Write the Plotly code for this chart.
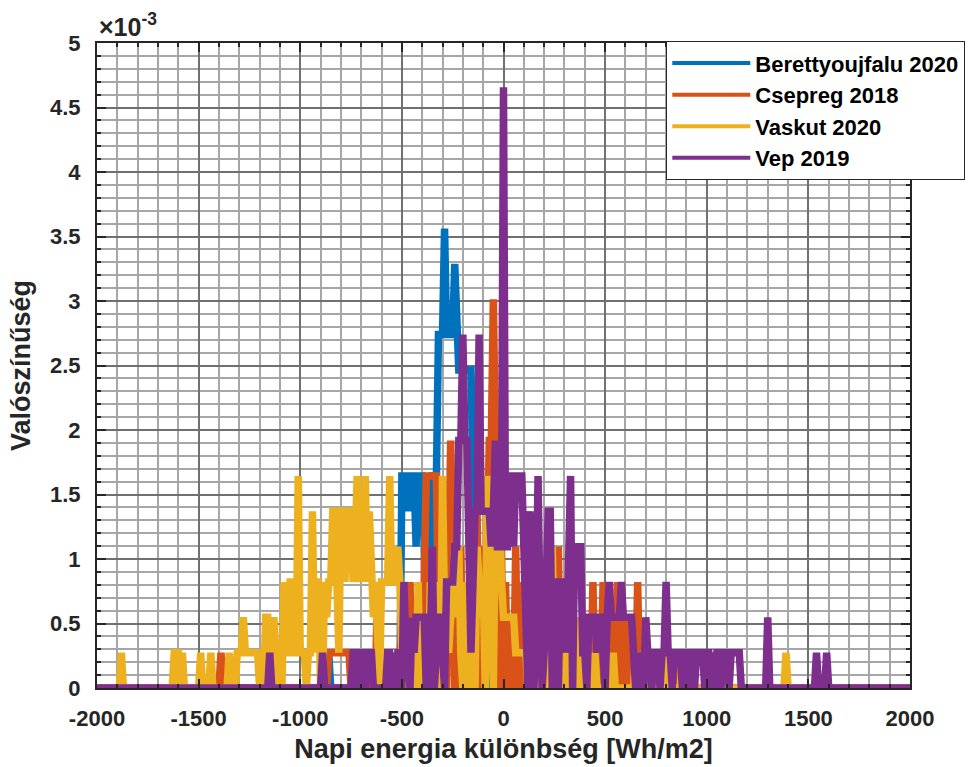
import numpy as np
import plotly.graph_objects as go

# ---- data: histogram bins (Wh/m2) and day counts per 10 Wh/m2 bin (365 days) ----
BIN_WIDTH = 10
N_DAYS = 365

beretty_x = [-860, -500, -490, -480, -470, -460, -450, -440, -430, -420, -410, -400, -390,
             -360, -350, -340, -330, -320, -310, -300, -290, -280, -270, -260, -250, -240,
             -230, -220, -210, -200, -190, -180, -170, -160, -150, -140, -130, -120, -110,
             -100, -70, -60, -50, -40, -30, -20, -10, 0, 10, 20, 30, 50, 60]
beretty_n = [1, 6, 6, 6, 5, 6, 6, 6, 4, 6, 6, 6, 4,
             3, 6, 6, 6, 10, 10, 10, 13, 10, 10, 10, 10, 12,
             10, 9, 9, 9, 9, 9, 9, 9, 6, 5, 3, 4, 2,
             1, 2, 3, 2, 2, 2, 1, 2, 1, 1, 1, 1, 1, 1]

csepreg_x = [-1390, -860, -850, -840, -830, -820, -810, -800, -790, -780, -770, -760,
             -620, -500, -460, -390, -380, -370, -360, -350, -340, -330, -320, -300,
             -270, -260, -250, -230, -210, -180, -150, -130, -100, -80, -70, -60, -50,
             -40, -30, -10, 10, 40, 60, 90, 120, 150, 180, 210, 240, 270, 300, 330, 360,
             390, 420, 440, 460, 490, 510, 540, 560, 580, 600, 620, 640, 660, 680, 700,
             780, 850, 1040]
csepreg_n = [1, 1, 1, 1, 1, 1, 1, 1, 1, 1, 1, 1,
             3, 3, 3, 3, 6, 6, 6, 6, 6, 6, 2, 2,
             4, 7, 4, 3, 4, 3, 4, 5, 4, 5, 7, 7, 11,
             7, 4, 4, 3, 2, 4, 3, 5, 4, 2, 3, 2, 4, 2, 3, 2,
             1, 2, 3, 2, 3, 2, 2, 3, 3, 2, 2, 1, 3, 1, 1,
             1, 1, 1]

vaskut_x = [-1880, -1620, -1610, -1600, -1580, -1490, -1440, -1350,
            -1310, -1300, -1290, -1280, -1270, -1260, -1250, -1240, -1230, -1220, -1210,
            -1170, -1160, -1140, -1130, -1120, -1100,
            -1080, -1070, -1060, -1050, -1040, -1030, -1020, -1010, -1000, -990, -980,
            -960, -950, -940, -930, -920, -910, -900, -880, -870, -860, -850, -840, -830,
            -820, -810, -800, -790, -780, -770, -760, -750, -740, -730, -720, -710, -700,
            -690, -680, -670, -660, -650, -640, -630, -620, -600, -590, -580, -570, -560,
            -550, -540, -530, -520, -510, -500, -490, -480, -460, -440, -420, -400, -380,
            -360, -340, -320, -300, -290, -280, -270, -260, -250, -240, -230, -220, -210,
            -190, -170, -150, -130, -120, -110, -100, -80, -70, -60, -40, -30, -20, -10,
            0, 10, 20, 30, 40, 50, 60, 70, 80, 90, 100, 110, 130, 160, 190, 230, 240,
            250, 270, 300, 330, 350, 380, 410, 450, 540, 650, 700, 755, 800, 880, 1390]
vaskut_n = [1, 1, 1, 1, 1, 1, 1, 1,
            1, 1, 1, 2, 1, 1, 1, 1, 1, 1, 1,
            2, 2, 1, 2, 1, 1,
            3, 1, 1, 3, 3, 1, 1, 6, 1, 1, 1,
            1, 1, 5, 1, 3, 3, 0, 3, 2, 3, 3, 5, 5,
            3, 1, 5, 5, 3, 5, 5, 5, 3, 4, 6, 3, 4,
            3, 6, 3, 5, 3, 2, 3, 1, 3, 3, 3, 3, 6,
            3, 3, 3, 4, 3, 1, 2, 1, 2, 1, 3, 2, 2,
            3, 2, 3, 6, 2, 2, 1, 2, 3, 4, 2, 4, 1,
            3, 2, 1, 4, 3, 2, 3, 6, 3, 2, 5, 4, 5, 3,
            2, 2, 2, 2, 2, 2, 1, 1, 1, 1, 1, 1, 1, 1, 2, 1, 4,
            1, 1, 1, 1, 1, 2, 1, 1, 1, 1, 1, 1, 1, 1, 1]

vep_x = [-1150, -890, -740, -730, -710, -700, -690, -670, -660, -650,
         -570, -560, -540, -520, -510, -490, -480, -470, -450, -440, -430, -420, -410,
         -400, -390, -360, -350, -330, -320, -310, -300, -280, -270, -260, -250, -240,
         -230, -220, -210, -200, -190, -180, -170, -160, -150, -140, -130, -120, -110,
         -100, -90, -80, -70, -60, -50, -40, -30, -20, -10, 0, 10, 20, 30, 40, 50, 60,
         70, 80, 90, 100, 110, 130, 140, 160, 170, 180, 200, 210, 220, 230, 250, 260,
         280, 290, 300, 310, 320, 330, 350, 360, 370, 380, 390, 400, 420, 430, 440,
         450, 460, 470, 480, 490, 510, 520, 530, 540, 550, 560, 570, 580, 590, 600,
         610, 620, 630, 640, 660, 680, 700, 710, 720, 740, 750, 760, 780, 790, 800,
         810, 820, 840, 850, 860, 870, 890, 900, 920, 930, 950, 960, 970, 980, 1000,
         1010, 1030, 1050, 1060, 1080, 1090, 1100, 1120, 1130, 1140, 1150, 1160, 1300,
         1540, 1590]
vep_n = [1, 1, 1, 1, 1, 1, 1, 1, 1, 1,
         1, 1, 1, 1, 1, 3, 1, 1, 2, 1, 2, 2, 2,
         2, 2, 1, 4, 1, 2, 2, 1, 3, 3, 3, 3, 4,
         4, 7, 7, 10, 7, 7, 4, 1, 3, 5, 5, 10, 5,
         5, 5, 5, 5, 4, 5, 7, 4, 4, 5, 17, 4, 4, 6, 6, 4, 6,
         6, 6, 6, 4, 2, 5, 3, 2, 6, 2, 1, 4, 5, 5, 3, 3,
         3, 3, 3, 1, 4, 6, 4, 4, 4, 4, 1, 1, 2, 2, 2,
         2, 1, 2, 2, 1, 2, 3, 2, 2, 2, 2, 2, 3, 2, 2,
         2, 2, 2, 1, 1, 1, 2, 1, 1, 1, 1, 1, 1, 1, 3,
         1, 1, 1, 1, 1, 1, 1, 1, 1, 1, 1, 1, 1, 1, 1,
         1, 1, 1, 1, 1, 1, 1, 1, 1, 1, 1, 1, 2,
         1, 1]

series_names = ["Berettyoujfalu 2020", "Csepreg 2018", "Vaskut 2020", "Vep 2019"]
series_colors = ["#0072BD", "#D95319", "#EDB120", "#7E2F8E"]
series_data = [(beretty_x, beretty_n), (csepreg_x, csepreg_n),
               (vaskut_x, vaskut_n), (vep_x, vep_n)]

x_tick_vals = [-2000, -1500, -1000, -500, 0, 500, 1000, 1500, 2000]
x_tick_text = ["-2000", "-1500", "-1000", "-500", "0", "500", "1000", "1500", "2000"]
y_tick_vals = [i * 0.0005 for i in range(11)]
y_tick_text = ["0", "0.5", "1", "1.5", "2", "2.5", "3", "3.5", "4", "4.5", "5"]

bins = np.arange(-2000, 2001, BIN_WIDTH)

FONT = "Liberation Sans, Arial, Helvetica, sans-serif"
fig = go.Figure()

for (xs, ns), name, color in zip(series_data, series_names, series_colors):
    prob = np.zeros(len(bins))
    for xv, nv in zip(xs, ns):
        prob[int(round((xv + 2000) / BIN_WIDTH))] = nv / (N_DAYS * BIN_WIDTH)
    fig.add_trace(go.Scatter(x=bins, y=prob, mode="lines", name=name,
                             line=dict(color=color, width=7.5),
                             showlegend=False, hoverinfo="skip"))

for i, (name, color) in enumerate(zip(series_names, series_colors)):
    fig.add_trace(go.Scatter(x=[None], y=[None], mode="lines", name=name,
                             legendgroup="g%d" % i,
                             line=dict(color=color, width=4)))

axis_common = dict(
    showline=True, linecolor="#262626", linewidth=2, mirror="allticks",
    ticks="inside", ticklen=9, tickwidth=1.5, tickcolor="#262626",
    showgrid=True, gridcolor="#707070", gridwidth=1.8, zeroline=False,
    tickfont=dict(family=FONT, size=22, color="#262626", weight="bold"),
)

minor_common = dict(showgrid=True, gridcolor="#a6a6a6", gridwidth=1.5,
                    ticks="inside", ticklen=4, tickcolor="#262626")

fig.update_xaxes(
    range=[-2000, 2000], tickmode="array", tickvals=x_tick_vals, ticktext=x_tick_text,
    minor=dict(tickmode="linear", tick0=-2000, dtick=100, **minor_common),
    title=dict(text="Napi energia különbség [Wh/m2]", standoff=9,
               font=dict(family=FONT, size=27, color="#262626", weight="bold")),
    ticklabelstandoff=10, automargin=False,
    **axis_common)

fig.update_yaxes(
    range=[0, 0.005], tickmode="array", tickvals=y_tick_vals, ticktext=y_tick_text,
    minor=dict(tickmode="linear", tick0=0, dtick=0.0001, **minor_common),
    title=dict(text="Valószínűség", standoff=12,
               font=dict(family=FONT, size=27, color="#262626", weight="bold")),
    ticklabelstandoff=10, automargin=False,
    **axis_common)

fig.add_annotation(text="×10<sup>-3</sup>", xref="paper", yref="paper",
                   x=0, y=1, xanchor="left", yanchor="bottom", showarrow=False,
                   font=dict(family=FONT, size=25, color="#262626", weight="bold"))

fig.update_layout(
    width=969, height=767,
    margin=dict(l=97, r=59, t=43, b=79, autoexpand=False),
    paper_bgcolor="white", plot_bgcolor="white",
    font=dict(family=FONT),
    legend=dict(x=0.70, y=1.003, xanchor="left", yanchor="top",
                bgcolor="white", bordercolor="#262626", borderwidth=1.2,
                font=dict(family=FONT, size=22, color="black", weight="bold"),
                itemwidth=78, tracegroupgap=0),
)

fig.write_html("out.html")
